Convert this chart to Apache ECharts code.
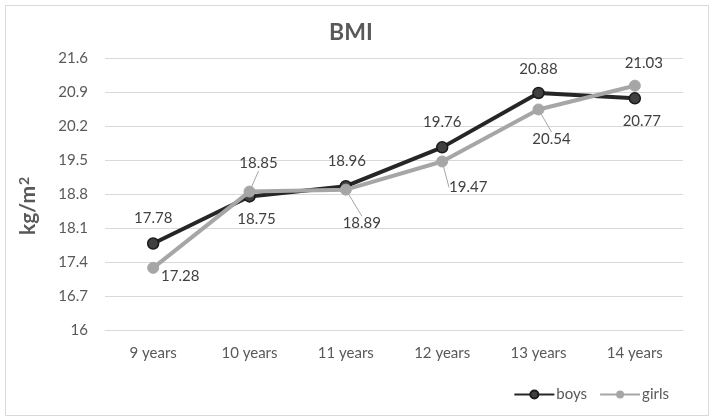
<!DOCTYPE html>
<html>
<head>
<meta charset="utf-8">
<script src="https://cdn.jsdelivr.net/npm/echarts@6/dist/echarts.min.js"></script>
<style>
html,body{margin:0;padding:0;background:#fff;}
#c{width:709px;height:416px;}
</style>
</head>
<body>
<div id="c"></div>
<script>
var categories = ['9 years', '10 years', '11 years', '12 years', '13 years', '14 years'];
var boys = [17.78, 18.75, 18.96, 19.76, 20.88, 20.77];
var girls = [17.28, 18.85, 18.89, 19.47, 20.54, 21.03];
var yTicks = [16, 16.7, 17.4, 18.1, 18.8, 19.5, 20.2, 20.9, 21.6];

// label offsets (from marker centre) — styling only
var boysOff = [[0,-25],[7,23],[1,-25],[0,-25],[0,-24],[7,23]];
var girlsOff = [[27,8],[9,-28],[16,34],[26,26],[13,30],[9,-23]];
var girlsLeader = [false,true,true,true,true,false];

var FONT = 'Lato, "Open Sans", sans-serif';
var chart = echarts.init(document.getElementById('c'));
chart.setOption({
  animation: false,
  backgroundColor: '#fff',
  graphic: [{
    type: 'rect', left: 3, top: 3, shape: {width: 703, height: 410},
    style: {fill: 'none', stroke: '#d9d9d9', lineWidth: 1}, silent: true
  }],
  title: {
    text: 'BMI', left: 324, top: 16,
    textStyle: {fontFamily: FONT, fontSize: 23, fontWeight: 'bold', color: '#595959'}
  },
  legend: {
    right: 35, top: 382, itemWidth: 40, itemHeight: 10, itemGap: 12,
    textStyle: {fontFamily: FONT, fontSize: 15, color: '#595959', padding: [0,0,0,-3]},
    data: ['boys', 'girls']
  },
  grid: {left: 105, right: 26, top: 58, bottom: 86},
  xAxis: {
    type: 'category', data: categories, boundaryGap: true,
    axisLine: {lineStyle: {color: '#d9d9d9'}},
    axisTick: {show: false},
    axisLabel: {fontFamily: FONT, fontSize: 15, color: '#595959', margin: 16}
  },
  yAxis: {
    type: 'value', min: yTicks[0], max: yTicks[yTicks.length-1], interval: 0.7,
    name: 'kg/m{sup|2}', nameLocation: 'middle', nameGap: 66,
    nameTextStyle: {fontFamily: FONT, fontSize: 21, fontWeight: 'bold', color: '#595959',
      padding: [0, 24, 0, 0],
      rich: {sup: {fontFamily: FONT, fontSize: 14, fontWeight: 'bold', color: '#595959', verticalAlign: 'top', padding: [0,0,8,1]}}},
    axisLabel: {fontFamily: FONT, fontSize: 15, color: '#595959', margin: 17,
      formatter: function(v){ return String(Math.round(v*10)/10); }},
    axisLine: {show: false}, axisTick: {show: false},
    splitLine: {lineStyle: {color: '#d9d9d9', width: 1}}
  },
  series: [
    {
      name: 'boys', type: 'line', data: boys, z: 3,
      symbol: 'circle', symbolSize: 11,
      lineStyle: {color: '#262626', width: 4},
      itemStyle: {color: '#404040', borderColor: '#1a1a1a', borderWidth: 1.5},
      label: {show: true, position: 'inside', fontFamily: FONT, fontSize: 15, color: '#404040',
        formatter: function(p){ return p.value.toFixed(2); }},
      labelLayout: function(p){ var o = boysOff[p.dataIndex]; return {dx: o[0], dy: o[1]}; }
    },
    {
      name: 'girls', type: 'line', data: girls.map(function(v, i){
        return {value: v, labelLine: {show: girlsLeader[i]}};
      }), z: 4,
      symbol: 'circle', symbolSize: 11,
      lineStyle: {color: '#a6a6a6', width: 4},
      itemStyle: {color: '#a6a6a6', borderColor: '#a6a6a6'},
      label: {show: true, position: 'inside', fontFamily: FONT, fontSize: 15, color: '#404040',
        formatter: function(p){ return p.value.toFixed(2); }},
      labelLine: {show: true, lineStyle: {color: '#a6a6a6', width: 1}},
      labelLayout: function(p){ var o = girlsOff[p.dataIndex]; return {dx: o[0], dy: o[1]}; }
    }
  ]
});
</script>
</body>
</html>
